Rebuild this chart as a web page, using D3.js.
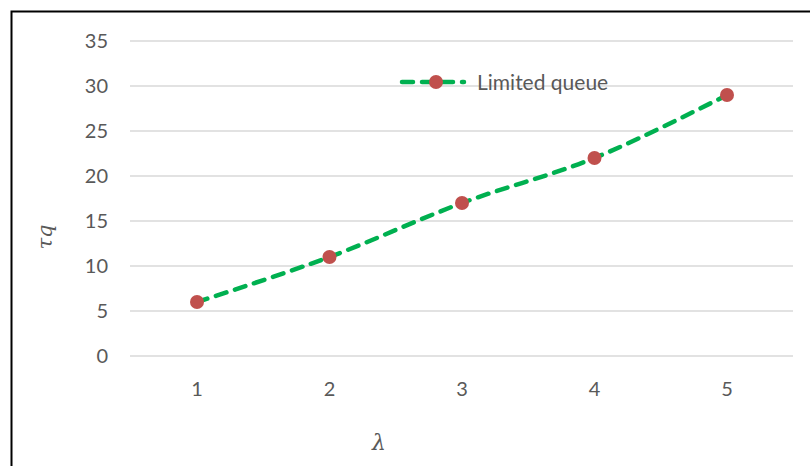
<!DOCTYPE html>
<html>
<head>
<meta charset="utf-8">
<script src="https://cdn.jsdelivr.net/npm/d3@7"></script>
<style>
  body { margin: 0; background: #fff; }
  text { font-family: Lato, "Open Sans", sans-serif; fill: #595959; }
</style>
</head>
<body>
<div id="root"></div>
<script>
const lambdas = [1, 2, 3, 4, 5]
const tauq = [6, 11, 17, 22, 29]
const yTicks = [0, 5, 10, 15, 20, 25, 30, 35]
const seriesName = "Limited queue"

const w = 810, h = 466

const svg = d3.select("#root").append("svg")
    .attr("width", w)
    .attr("height", h)

// outer frame
svg.append("path")
    .attr("d", `M11.5,${h + 5} V11.5 H${w + 5}`)
    .attr("fill", "none")
    .attr("stroke", "#000")
    .attr("stroke-width", 2)

//scales
const x = d3.scaleBand()
    .domain(lambdas)
    .range([130.75, 793.25])

const y = d3.scaleLinear()
    .domain([0, 35])
    .range([356, 41])

// gridlines
svg.append("g").selectAll("line").data(yTicks).enter().append("line")
    .attr("x1", 130)
    .attr("x2", 793)
    .attr("y1", d => y(d))
    .attr("y2", d => y(d))
    .attr("stroke", "#d9d9d9")
    .attr("stroke-width", 1.3)

// y tick labels
svg.append("g").selectAll("text").data(yTicks).enter().append("text")
    .attr("x", 108)
    .attr("y", d => y(d))
    .attr("dy", "0.36em")
    .attr("text-anchor", "end")
    .attr("font-size", 20)
    .text(d => d)

// x tick labels
svg.append("g").selectAll("text").data(lambdas).enter().append("text")
    .attr("x", d => x(d) + x.bandwidth() / 2)
    .attr("y", 389)
    .attr("dy", "0.36em")
    .attr("text-anchor", "middle")
    .attr("font-size", 20)
    .text(d => d)

const cx = d => x(d) + x.bandwidth() / 2
const points = lambdas.map((d, i) => [cx(d), y(tauq[i])])

const line = d3.line().curve(d3.curveCatmullRom.alpha(0.5))

svg.append("path")
    .attr("d", line(points))
    .attr("fill", "none")
    .attr("stroke", "#00b050")
    .attr("stroke-width", 4.5)
    .attr("stroke-dasharray", "11,9")
    .attr("stroke-linecap", "round")

svg.append("g").selectAll("circle").data(points).enter().append("circle")
    .attr("cx", d => d[0])
    .attr("cy", d => d[1])
    .attr("r", 7)
    .attr("fill", "#c0504d")

// legend
const legend = svg.append("g").attr("transform", "translate(400,82)")
legend.append("line")
    .attr("x1", 2).attr("x2", 64)
    .attr("y1", 0).attr("y2", 0)
    .attr("stroke", "#00b050")
    .attr("stroke-width", 4.5)
    .attr("stroke-dasharray", "11,9")
    .attr("stroke-linecap", "round")
legend.append("circle")
    .attr("cx", 36).attr("cy", 0).attr("r", 7)
    .attr("fill", "#c0504d")
legend.append("text")
    .attr("x", 77)
    .attr("y", 0)
    .attr("dy", "0.36em")
    .attr("font-size", 21)
    .text(seriesName)

// axis titles
svg.append("text")
    .attr("transform", "translate(52,237) rotate(-90)")
    .attr("text-anchor", "middle")
    .attr("font-size", 21)
    .style("font-family", "'DejaVu Serif', serif")
    .style("font-style", "italic")
    .text("τq")

svg.append("text")
    .attr("x", 379)
    .attr("y", 450)
    .attr("text-anchor", "middle")
    .attr("font-size", 22)
    .style("font-family", "'DejaVu Serif', serif")
    .style("font-style", "italic")
    .text("λ")
</script>
</body>
</html>
